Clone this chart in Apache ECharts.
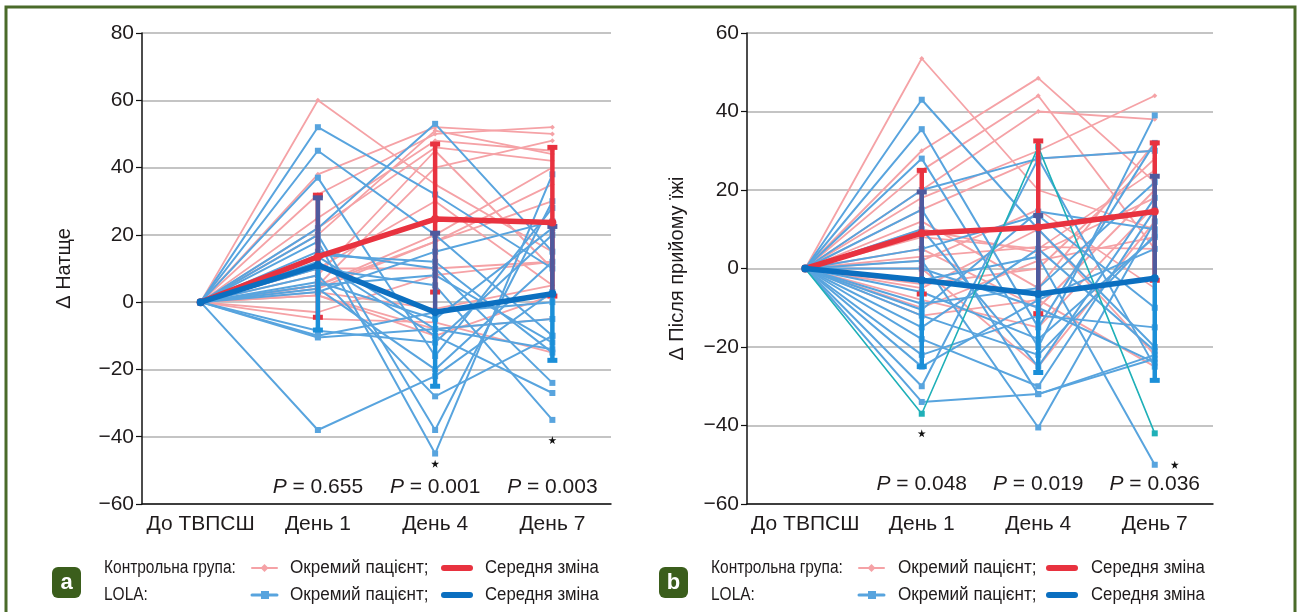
<!DOCTYPE html>
<html>
<head>
<meta charset="utf-8">
<script src="https://cdn.jsdelivr.net/npm/echarts@6/dist/echarts.min.js"></script>
<style>
  html, body { margin: 0; padding: 0; background: #ffffff; }
  #chart { width: 1300px; height: 612px; }
</style>
</head>
<body>
<div id="chart"></div>
<script>
// ---- Categories and tick labels ----
const categories = ['До ТВПСШ', 'День 1', 'День 4', 'День 7'];
const yTicksA = { min: -60, max: 80, step: 20 };
const yTicksB = { min: -60, max: 60, step: 20 };

// ---- Panel a: fasting change (Δ Натще) ----
const controlPatientsA = [
  [0, 60, 35, 15], [0, 38, 52, 50], [0, 32, 50, 52], [0, 25, 48, 45],
  [0, 22, 46, 42], [0, 20, 51, 44], [0, 5, 40, 48], [0, 5, 20, 40],
  [0, 4, 18, 30], [0, 10, 10, 12], [0, 8, 45, 10], [0, 5, 18, 35],
  [0, 3, -2, 5], [0, 2, -8, -5], [0, -3, 8, 12], [0, -5, -6, -15],
  [0, 10, 30, 5], [0, 2, -10, 2]
];
const lolaPatientsA = [
  [0, 52, 32, 10], [0, 45, 20, -10], [0, 37, -16, 28], [0, 22, 53, 15],
  [0, 20, -38, 30], [0, 18, -45, 38], [0, 15, 10, -24], [0, 12, -10, -27],
  [0, 10, 5, -35], [0, 8, -28, -10], [0, 6, -5, 22], [0, 5, 8, -12],
  [0, 4, -20, 12], [0, 3, 15, 24], [0, 13.5, -8, -5], [0, 14, 12, -15],
  [0, -8.5, -12, 20], [0, -10, -3, 0], [0, -38, -22, 3], [0, -10.5, -8, -14]
];
const controlMeanA = [0, 13.5, 24.7, 23.7];
const controlLowA  = [0, -4.5, 3, 1.8];
const controlHighA = [0, 31.8, 47, 46];
const lolaMeanA = [0, 11, -3, 2.5];
const lolaLowA  = [0, -8.3, -25, -17.3];
const lolaHighA = [0, 31, 20.5, 22.5];
const pValuesA = ['0.655', '0.001', '0.003'];
const starsA = [[2, -48], [3, -41]];

// ---- Panel b: postprandial change (Δ Після прийому їжі) ----
const controlPatientsB = [
  [0, 53.5, 20, 10], [0, 30, 48.5, 22], [0, 25, 44, 5], [0, 20, 40, 38],
  [0, 18, 30, 44], [0, 15, 28, 30], [0, 12, -5, 32], [0, 10, 4, 18],
  [0, 8, 5, 25], [0, 5, -10, 20], [0, 2, 15, -5], [0, 0, -25, 12],
  [0, -5, 10, -22], [0, -8, -15, 16], [0, -10, 2, 8], [0, -12, -8, -25],
  [0, 3, 5.5, 5], [0, -4, 0, 28]
];
const lolaPatientsB = [
  [0, 43, 10, -20], [0, 35.5, -15, 32], [0, 28, -20, 39], [0, 20, 28, 30],
  [0, 15, -32, -22], [0, 10, -25, 18], [0, 5, 13.5, -10], [0, 2, -40.5, 12],
  [0, 0, -10, -24], [0, -3, 3, -50], [0, -6, -18, 8], [0, -9, -5, 22],
  [0, -12, -22, 8.5], [0, -15, 5, -21], [0, -18, -30, 15], [0, -22, -12, -15],
  [0, -25, -8, 5], [0, -30, 28, -25], [0, -34, -32, -23], [0, -10.5, 14.5, 10]
];
const lolaHighlightedB = [0, -37, 31, -42];
const controlMeanB = [0, 9, 10.5, 14.5];
const controlLowB  = [0, -6.5, -11.5, -3];
const controlHighB = [0, 25, 32.5, 32];
const lolaMeanB = [0, -3, -6.5, -2.5];
const lolaLowB  = [0, -25, -26.5, -28.5];
const lolaHighB = [0, 19.5, 13.5, 23.5];
const pValuesB = ['0.048', '0.019', '0.036'];
const starsB = [[1, -42], [3, -50]];

// ---- Legend texts ----
const legendGroups = ['Контрольна група:', 'LOLA:'];
const legendPatient = 'Окремий пацієнт;';
const legendMean = 'Середня зміна';
const panelLetters = ['a', 'b'];

// ---- Styling ----
const C = {
  pink: '#f5a2a6',
  lightBlue: '#58a4de',
  red: '#e8323f',
  blue: '#0b6fc0',
  navy: '#4f5a9e',
  barBlue: '#1b8fd8',
  teal: '#1fb0b8',
  grid: '#c4c4c4',
  text: '#1f1b1c',
  frame: '#4a6b2a',
  badge: '#3b5e1c'
};
const FONT = "'Liberation Sans', Arial, Helvetica, sans-serif";
const STAR = 'path://M50,0 L61,35 L98,35 L68,57 L79,91 L50,70 L21,91 L32,57 L2,35 L39,35 Z';

function patientLines(rows, gi, color, symbol, size, width) {
  return rows.map(r => ({
    type: 'line', xAxisIndex: gi, yAxisIndex: gi, data: r,
    symbol: symbol, symbolSize: size, showAllSymbol: true,
    lineStyle: { color: color, width: width },
    itemStyle: { color: color },
    emphasis: { disabled: true }, silent: true, z: 2
  }));
}

// vertical error bar with optional caps at the low / high end
function errorBars(gi, lows, highs, color, capLow, capHigh, z) {
  const data = [];
  for (let i = 1; i < categories.length; i++) data.push([i, lows[i], highs[i]]);
  return {
    type: 'custom', xAxisIndex: gi, yAxisIndex: gi, data: data, z: z, silent: true,
    encode: { x: 0, y: [1, 2] },
    renderItem: function (params, api) {
      const x = api.value(0);
      const lo = api.coord([x, api.value(1)]);
      const hi = api.coord([x, api.value(2)]);
      const kids = [{ type: 'line', shape: { x1: lo[0], y1: lo[1], x2: hi[0], y2: hi[1] }, style: { stroke: color, lineWidth: 4.5 } }];
      if (capLow) kids.push({ type: 'line', shape: { x1: lo[0] - 5, y1: lo[1], x2: lo[0] + 5, y2: lo[1] }, style: { stroke: color, lineWidth: 5 } });
      if (capHigh) kids.push({ type: 'line', shape: { x1: hi[0] - 5, y1: hi[1], x2: hi[0] + 5, y2: hi[1] }, style: { stroke: color, lineWidth: 5 } });
      return { type: 'group', children: kids };
    }
  };
}

function meanLine(gi, data, color, z) {
  return {
    type: 'line', xAxisIndex: gi, yAxisIndex: gi, data: data,
    symbol: 'circle', symbolSize: 8,
    lineStyle: { color: color, width: 5.5 }, itemStyle: { color: color },
    silent: true, z: z
  };
}

function pLabels(gi, values) {
  return {
    type: 'scatter', xAxisIndex: gi, yAxisIndex: gi, silent: true, z: 20,
    symbolSize: 1, itemStyle: { color: 'rgba(0,0,0,0)', opacity: 1 },
    data: values.map((v, i) => ({ value: [i + 1, -55], p: v })),
    label: {
      show: true, position: 'inside', opacity: 1,
      formatter: p => '{i|P} = ' + p.data.p,
      fontFamily: FONT, fontSize: 21, color: C.text,
      rich: { i: { fontStyle: 'italic', fontFamily: FONT, fontSize: 21, color: C.text } }
    }
  };
}

function starMarks(gi, pts, shiftLast) {
  return {
    type: 'scatter', xAxisIndex: gi, yAxisIndex: gi, silent: true, z: 20,
    symbol: STAR, symbolSize: 8, itemStyle: { color: '#111', opacity: 1 },
    data: pts.map((p, i) => ({ value: p, symbolOffset: (shiftLast && i === pts.length - 1) ? [20, 0] : [0, 0] }))
  };
}

function yAxis(gi, t, name, gap) {
  return {
    type: 'value', gridIndex: gi, min: t.min, max: t.max, interval: t.step,
    name: name, nameLocation: 'middle', nameGap: gap, nameRotate: 90,
    nameTextStyle: { fontFamily: FONT, fontSize: 20, color: C.text },
    axisLine: { show: true, lineStyle: { color: '#111', width: 1.5 } },
    axisTick: { show: true, length: 6, lineStyle: { color: '#111', width: 1.2 } },
    axisLabel: {
      fontFamily: FONT, fontSize: 21, color: C.text, margin: 8,
      formatter: v => (v < 0 ? '\u2212' + Math.abs(v) : String(v))
    },
    splitLine: { show: true, lineStyle: { color: C.grid, width: 2 } }
  };
}

function xAxis(gi) {
  return {
    type: 'category', gridIndex: gi, data: categories, boundaryGap: true,
    axisLine: { show: true, onZero: false, lineStyle: { color: '#111', width: 1.5 } },
    axisTick: { show: false },
    axisLabel: { fontFamily: FONT, fontSize: 21, color: C.text, margin: 10, interval: 0 },
    splitLine: { show: false }
  };
}

// ---- Legend drawn as graphic elements below each panel ----
function legendBlock(x0, letter, pos) {
  const t = (x, y, s, sx) => ({
    type: 'text', x: x, y: y, scaleX: sx,
    style: { text: s, fontFamily: FONT, fontSize: 18, fill: C.text, textVerticalAlign: 'middle' }
  });
  const seg = (x1, x2, y, color, w) => ({
    type: 'line', shape: { x1: x1, y1: y, x2: x2, y2: y },
    style: { stroke: color, lineWidth: w, lineCap: 'round' }
  });
  const y1 = 568, y2 = 595;
  return [
    { type: 'rect', shape: { x: x0, y: 567, width: 29, height: 31, r: 6 }, style: { fill: C.badge } },
    { type: 'text', x: x0 + 14.5, y: 583, style: { text: letter, fontFamily: FONT, fontWeight: 'bold', fontSize: 22, fill: '#fff', textAlign: 'center', textVerticalAlign: 'middle' } },
    t(x0 + 52, y1, legendGroups[0], 0.86),
    t(x0 + 52, y2, legendGroups[1], 0.86),
    seg(pos.sym1, pos.sym1 + 25, y1, C.pink, 2),
    { type: 'polygon', shape: { points: [[pos.sym1 + 12.5, y1 - 4], [pos.sym1 + 16.5, y1], [pos.sym1 + 12.5, y1 + 4], [pos.sym1 + 8.5, y1]] }, style: { fill: C.pink } },
    seg(pos.sym1, pos.sym1 + 25, y2, C.lightBlue, 3),
    { type: 'rect', shape: { x: pos.sym1 + 9, y: y2 - 4, width: 8, height: 8 }, style: { fill: C.lightBlue } },
    t(pos.txt1, y1, legendPatient, 0.95),
    t(pos.txt1, y2, legendPatient, 0.95),
    seg(pos.sym2, pos.sym2 + 26, y1, C.red, 6),
    seg(pos.sym2, pos.sym2 + 26, y2, C.blue, 6),
    t(pos.txt2, y1, legendMean, 0.93),
    t(pos.txt2, y2, legendMean, 0.93)
  ];
}

const series = [].concat(
  patientLines(controlPatientsA, 0, C.pink, 'diamond', 5, 1.8),
  patientLines(lolaPatientsA, 0, C.lightBlue, 'rect', 6, 2),
  [
    errorBars(0, controlLowA, controlHighA, C.red, true, true, 5),
    errorBars(0, lolaMeanA, lolaHighA, C.navy, false, true, 6),
    errorBars(0, lolaLowA, lolaMeanA, C.barBlue, true, false, 6),
    meanLine(0, controlMeanA, C.red, 8),
    meanLine(0, lolaMeanA, C.blue, 9),
    pLabels(0, pValuesA),
    starMarks(0, starsA, false)
  ],
  patientLines(controlPatientsB, 1, C.pink, 'diamond', 5, 1.8),
  patientLines(lolaPatientsB, 1, C.lightBlue, 'rect', 6, 2),
  patientLines([lolaHighlightedB], 1, C.teal, 'rect', 6, 1.6),
  [
    errorBars(1, controlLowB, controlHighB, C.red, true, true, 5),
    errorBars(1, lolaMeanB, lolaHighB, C.navy, false, true, 6),
    errorBars(1, lolaLowB, lolaMeanB, C.barBlue, true, false, 6),
    meanLine(1, controlMeanB, C.red, 8),
    meanLine(1, lolaMeanB, C.blue, 9),
    pLabels(1, pValuesB),
    starMarks(1, starsB, true)
  ]
);

const option = {
  backgroundColor: '#ffffff',
  animation: false,
  grid: [
    { left: 142, top: 33, width: 469, height: 471, containLabel: false },
    { left: 747, top: 33, width: 466, height: 471, containLabel: false }
  ],
  xAxis: [xAxis(0), xAxis(1)],
  yAxis: [yAxis(0, yTicksA, 'Δ Натще', 68), yAxis(1, yTicksB, 'Δ Після прийому їжі', 60)],
  series: series,
  graphic: [].concat(
    [{ type: 'rect', shape: { x: 6, y: 7, width: 1289, height: 630 }, style: { fill: 'none', stroke: C.frame, lineWidth: 3 }, z: 100 }],
    legendBlock(52, panelLetters[0], { sym1: 252, txt1: 290, sym2: 444, txt2: 485 }),
    legendBlock(659, panelLetters[1], { sym1: 859, txt1: 898, sym2: 1049, txt2: 1091 })
  )
};

const chart = echarts.init(document.getElementById('chart'), null, { renderer: 'canvas' });
chart.setOption(option);
</script>
</body>
</html>
